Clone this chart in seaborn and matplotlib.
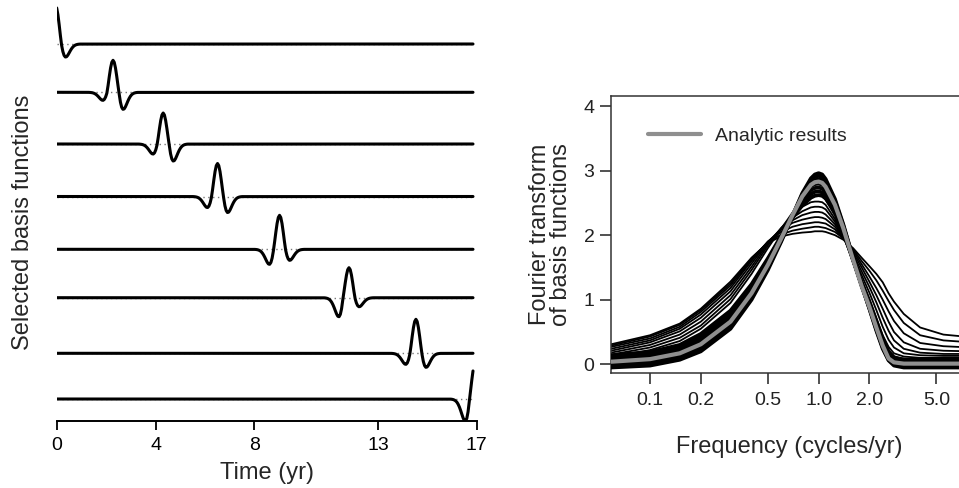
import numpy as np
import pandas as pd
import matplotlib
matplotlib.use("Agg")
import matplotlib.pyplot as plt
import seaborn as sns
from matplotlib.ticker import NullLocator
from matplotlib.lines import Line2D

# ---------------- Left panel data ----------------
time_ticks = [0, 4, 8, 13, 17]
t_end = 16.85
wavelet_offsets = [-1.0, -0.95, -0.9, -0.85, -0.8, -0.75, -0.7, -0.65, -0.6, -0.55,
                   -0.5, -0.45, -0.4, -0.35, -0.3, -0.25, -0.2, -0.15, -0.1, -0.05,
                   0.0, 0.05, 0.1, 0.15, 0.2, 0.25, 0.3, 0.35, 0.4, 0.45, 0.5,
                   0.55, 0.6, 0.65, 0.7, 0.75, 0.8, 0.85, 0.9, 0.95, 1.0]
wavelet_shape = [-0.003, -0.006, -0.012, -0.022, -0.039, -0.066, -0.107, -0.162, -0.231, -0.308,
                 -0.381, -0.434, -0.443, -0.389, -0.258, -0.049, 0.216, 0.501, 0.758, 0.936,
                 1.0, 0.936, 0.758, 0.501, 0.216, -0.049, -0.258, -0.389, -0.443, -0.434, -0.381,
                 -0.308, -0.231, -0.162, -0.107, -0.066, -0.039, -0.022, -0.012, -0.006, -0.003]
basis_centers = [-0.05, 2.28, 4.31, 6.51, 9.02, 11.83, 14.54, 16.95]
basis_baselines = [377, 328.7, 277, 224.5, 171.7, 123.3, 67.7, 22]
basis_peaks = [38.5, 32, 31, 33, 34, 30, 34, 37]
basis_left_dips = [10, 8, 10, 11, 15, 19, 11, 22]
basis_right_dips = [13, 17, 17, 16, 11, 9, 14, 12]

# ---------------- Right panel data ----------------
freq = [0.0588, 0.1, 0.15, 0.2, 0.3, 0.4, 0.5, 0.6, 0.7, 0.8, 0.9, 0.95, 1.0, 1.05, 1.1, 1.25,
        1.4, 1.6, 1.8, 2.0, 2.2, 2.4, 2.6, 2.8, 3.2, 4.0, 5.5, 8.0]
freq_ticks = [0.1, 0.2, 0.5, 1.0, 2.0, 5.0]
freq_ticklabels = ["0.1", "0.2", "0.5", "1.0", "2.0", "5.0"]

core_k1 = [-0.05, -0.02, 0.07, 0.20, 0.55, 1.00, 1.46, 1.90, 2.30, 2.65, 2.88, 2.94, 2.96, 2.94, 2.87, 2.56,
           2.17, 1.65, 1.22, 0.86, 0.52, 0.24, 0.06, -0.02, -0.05, -0.05, -0.05, -0.05]
core_k2 = [-0.03, 0.00, 0.10, 0.24, 0.60, 1.04, 1.50, 1.92, 2.30, 2.63, 2.85, 2.90, 2.92, 2.90, 2.83, 2.53,
           2.15, 1.64, 1.22, 0.87, 0.54, 0.26, 0.07, 0.00, -0.03, -0.03, -0.03, -0.03]
core_k3 = [0.00, 0.04, 0.14, 0.28, 0.64, 1.08, 1.53, 1.94, 2.30, 2.60, 2.81, 2.85, 2.87, 2.85, 2.79, 2.50,
           2.13, 1.63, 1.22, 0.88, 0.56, 0.28, 0.09, 0.02, -0.01, -0.01, -0.01, -0.01]
core_k4 = [0.04, 0.08, 0.18, 0.32, 0.68, 1.12, 1.55, 1.95, 2.30, 2.58, 2.76, 2.79, 2.80, 2.78, 2.72, 2.45,
           2.10, 1.62, 1.22, 0.90, 0.58, 0.30, 0.10, 0.03, 0.01, 0.01, 0.01, 0.01]
core_k5 = [0.07, 0.12, 0.22, 0.37, 0.73, 1.16, 1.58, 1.97, 2.29, 2.54, 2.70, 2.73, 2.74, 2.72, 2.67, 2.42,
           2.08, 1.62, 1.23, 0.92, 0.61, 0.33, 0.13, 0.05, 0.03, 0.03, 0.03, 0.03]
core_k6 = [0.10, 0.15, 0.26, 0.42, 0.78, 1.20, 1.61, 1.98, 2.28, 2.50, 2.64, 2.67, 2.68, 2.66, 2.62, 2.39,
           2.06, 1.62, 1.24, 0.94, 0.64, 0.36, 0.16, 0.08, 0.05, 0.05, 0.05, 0.05]
core_k7 = [0.14, 0.19, 0.30, 0.47, 0.83, 1.24, 1.64, 1.99, 2.27, 2.46, 2.58, 2.61, 2.62, 2.61, 2.57, 2.36,
           2.04, 1.62, 1.25, 0.96, 0.67, 0.40, 0.20, 0.11, 0.07, 0.07, 0.07, 0.07]

spread_s1 = [0.12, 0.22, 0.36, 0.55, 0.95, 1.40, 1.80, 2.10, 2.35, 2.52, 2.60, 2.62, 2.62, 2.60, 2.55, 2.30,
             1.98, 1.61, 1.26, 0.93, 0.60, 0.34, 0.18, 0.11, 0.09, 0.08, 0.08, 0.08]
spread_s2 = [0.15, 0.26, 0.41, 0.60, 1.01, 1.46, 1.84, 2.11, 2.31, 2.44, 2.51, 2.52, 2.52, 2.51, 2.47, 2.25,
             1.98, 1.64, 1.32, 1.02, 0.72, 0.45, 0.27, 0.17, 0.12, 0.10, 0.10, 0.10]
spread_s3 = [0.18, 0.30, 0.46, 0.66, 1.07, 1.51, 1.87, 2.11, 2.27, 2.37, 2.43, 2.44, 2.44, 2.43, 2.40, 2.21,
             1.98, 1.67, 1.38, 1.11, 0.84, 0.58, 0.38, 0.26, 0.17, 0.14, 0.13, 0.13]
spread_s4 = [0.21, 0.34, 0.51, 0.72, 1.13, 1.56, 1.89, 2.10, 2.23, 2.31, 2.35, 2.36, 2.36, 2.35, 2.32, 2.17,
             1.98, 1.70, 1.44, 1.20, 0.96, 0.72, 0.52, 0.37, 0.24, 0.18, 0.16, 0.16]
spread_s5 = [0.24, 0.37, 0.55, 0.77, 1.18, 1.60, 1.90, 2.08, 2.19, 2.24, 2.27, 2.28, 2.28, 2.27, 2.25, 2.13,
             1.97, 1.73, 1.50, 1.28, 1.07, 0.86, 0.66, 0.50, 0.34, 0.24, 0.21, 0.20]
spread_s6 = [0.27, 0.40, 0.58, 0.81, 1.22, 1.62, 1.90, 2.05, 2.13, 2.17, 2.19, 2.20, 2.20, 2.19, 2.18, 2.09,
             1.96, 1.76, 1.55, 1.36, 1.18, 1.00, 0.82, 0.67, 0.48, 0.33, 0.28, 0.26]
spread_s7 = [0.29, 0.43, 0.61, 0.84, 1.25, 1.64, 1.89, 2.01, 2.07, 2.10, 2.12, 2.13, 2.13, 2.12, 2.11, 2.05,
             1.95, 1.78, 1.60, 1.45, 1.30, 1.14, 0.98, 0.84, 0.64, 0.45, 0.37, 0.34]
spread_s8 = [0.31, 0.45, 0.63, 0.86, 1.28, 1.65, 1.88, 1.98, 2.02, 2.04, 2.05, 2.06, 2.06, 2.06, 2.05, 2.00,
             1.93, 1.80, 1.65, 1.52, 1.40, 1.27, 1.10, 0.97, 0.78, 0.57, 0.46, 0.42]

analytic = [0.04, 0.08, 0.17, 0.31, 0.66, 1.10, 1.54, 1.95, 2.31, 2.60, 2.78, 2.82, 2.83, 2.81, 2.75, 2.47,
            2.11, 1.62, 1.21, 0.89, 0.57, 0.29, 0.09, 0.03, 0.01, 0.01, 0.01, 0.01]

# ---------------- Style ----------------
sns.set_theme(style="ticks")
plt.rcParams["font.family"] = ["Liberation Sans", "DejaVu Sans"]
plt.rcParams["axes.linewidth"] = 1.1

fig = plt.figure(figsize=(9.59, 4.88), dpi=100)

# ---------------- Left panel ----------------
ax1 = fig.add_axes([56.7 / 959, 67 / 488, 420 / 959, 418 / 488])
off = np.array(wavelet_offsets)
shp = np.array(wavelet_shape)
rows = []
dot_rows = []
for i, (c, b, p, l, r) in enumerate(zip(basis_centers, basis_baselines, basis_peaks,
                                         basis_left_dips, basis_right_dips)):
    t = c + off
    v = np.where(shp > 0, shp * p, np.where(off < 0, shp / 0.443 * l, shp / 0.443 * r))
    keep = (t >= -1e-6) & (t <= t_end + 1e-6)
    tt = list(t[keep])
    vv = list(b + v[keep])
    if tt[0] > 1e-6:
        tt = [0.0] + tt
        vv = [b] + vv
    if tt[-1] < t_end - 1e-6:
        tt = tt + [t_end]
        vv = vv + [b]
    for a, y in zip(tt, vv):
        rows.append({"curve": i, "t": a, "y": y})
    dot_rows.append({"curve": i, "t": 0.0, "y": b})
    dot_rows.append({"curve": i, "t": t_end, "y": b})

df_basis = pd.DataFrame(rows)
df_dot = pd.DataFrame(dot_rows)
sns.lineplot(data=df_dot, x="t", y="y", units="curve", estimator=None, sort=False,
             color="#777777", lw=1.0, linestyle=(0, (1, 2.5)), ax=ax1, zorder=1)
sns.lineplot(data=df_basis, x="t", y="y", units="curve", estimator=None, sort=False,
             color="black", lw=2.2, ax=ax1, zorder=2)

ax1.set_xlim(0, 17)
ax1.set_ylim(0, 418)
for s in ["top", "right", "left"]:
    ax1.spines[s].set_visible(False)
ax1.spines["bottom"].set_linewidth(1.4)
ax1.spines["bottom"].set_color("black")
ax1.set_yticks([])
ax1.set_xticks(time_ticks)
ax1.set_xticklabels([str(v) for v in time_ticks])
ax1.tick_params(axis="x", length=6.5, width=1.3, pad=5, labelsize=14, colors="black")
ax1.set_xlabel("Time (yr)", fontsize=17, labelpad=6)
ax1.set_ylabel("Selected basis functions", fontsize=17)
ax1.yaxis.set_label_coords(-0.055, 0.476)

# ---------------- Right panel ----------------
ax2 = fig.add_axes([611.2 / 959, 115 / 488, 355.9 / 959, 277.3 / 488])
ax2.set_xscale("log")

core = {"k1": core_k1, "k2": core_k2, "k3": core_k3, "k4": core_k4,
        "k5": core_k5, "k6": core_k6, "k7": core_k7}
spread = {"s1": spread_s1, "s2": spread_s2, "s3": spread_s3, "s4": spread_s4,
          "s5": spread_s5, "s6": spread_s6, "s7": spread_s7, "s8": spread_s8}

def long_df(d):
    return pd.DataFrame([{"curve": k, "f": f, "v": v}
                         for k, vals in d.items() for f, v in zip(freq, vals)])

sns.lineplot(data=long_df(spread), x="f", y="v", units="curve", estimator=None, sort=False,
             color="black", lw=1.3, ax=ax2, zorder=2)
sns.lineplot(data=long_df(core), x="f", y="v", units="curve", estimator=None, sort=False,
             color="black", lw=2.7, ax=ax2, zorder=3)
sns.lineplot(x=freq, y=analytic, estimator=None, sort=False, color="#8f8f8f", lw=3.0,
             ax=ax2, zorder=4)

ax2.set_xlim(1 / 17, 7.6)
ax2.set_ylim(-0.135, 4.16)
ax2.set_xticks(freq_ticks)
ax2.set_xticklabels(freq_ticklabels)
ax2.xaxis.set_minor_locator(NullLocator())
ax2.set_yticks([0, 1, 2, 3, 4])
ax2.set_yticklabels(["0", "1", "2", "3", "4"])
for s in ax2.spines.values():
    s.set_linewidth(1.1)
    s.set_color("#333333")
ax2.tick_params(axis="both", length=8, width=1.1, labelsize=14, colors="#222222")
ax2.tick_params(axis="x", pad=6)
ax2.tick_params(axis="y", pad=4)
ax2.set_xlabel("Frequency (cycles/yr)", fontsize=17, labelpad=19)
ax2.set_ylabel("Fourier transform\nof basis functions", fontsize=17, linespacing=0.95,
               labelpad=8)

handle = Line2D([], [], color="#8f8f8f", lw=3.0)
ax2.legend([handle], ["Analytic results"], loc="upper left", bbox_to_anchor=(0.102, 0.887),
           frameon=False, fontsize=14, handlelength=2.73, handletextpad=0.74,
           borderpad=0, borderaxespad=0)

fig.savefig("out.png", dpi=100)
